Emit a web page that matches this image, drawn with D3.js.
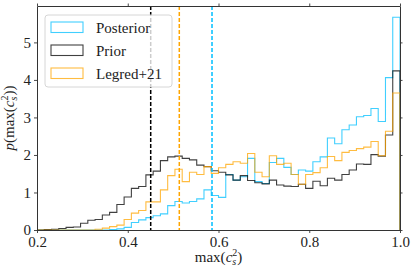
<!DOCTYPE html>
<html>
<head>
<meta charset="utf-8">
<style>
  body { margin: 0; background: #fff; }
  svg { display: block; font-family: "Liberation Serif", "DejaVu Serif", serif; }
  .tick text { font-size: 15px; fill: #222; font-family: "Liberation Serif", "DejaVu Serif", serif; }
</style>
</head>
<body>
<svg width="415" height="274"></svg>
<script src="https://cdn.jsdelivr.net/npm/d3@7"></script>
<script>

// histogram: 50 bins between 0.2 and 1.0
var binLo = 0.2, binHi = 1.0, nBins = 50;

var posterior = [0, 0, 0, 0, 0, 0, 0, 0, 0, 0,
  0.01, 0.03, 0.07, 0.20, 0.27, 0.33, 0.38, 0.43, 0.65, 0.76,
  0.72, 0.76, 0.83, 1.07, 0.92, 0.87, 1.48, 1.33, 1.42, 1.91,
  1.29, 1.24, 1.80, 1.91, 1.67, 1.48, 1.60, 1.57, 1.82, 1.95,
  2.45, 2.30, 2.67, 2.80, 3.02, 3.05, 3.24, 2.89, 4.06, 5.67];

var prior = [0, 0.01, 0.02, 0.04, 0.07, 0.08, 0.18, 0.26, 0.28, 0.40,
  0.47, 0.68, 0.88, 1.11, 1.16, 1.47, 1.57, 1.85, 1.95, 1.97,
  1.91, 1.87, 1.73, 1.69, 1.58, 1.54, 1.47, 1.33, 1.45, 1.32,
  1.26, 1.23, 1.33, 1.20, 1.17, 1.16, 1.22, 1.11, 1.30, 1.18,
  1.38, 1.33, 1.48, 1.60, 1.76, 1.75, 2.01, 1.97, 2.53, 4.24];

var legred = [0, 0, 0, 0, 0, 0, 0, 0, 0.02, 0.05,
  0.09, 0.13, 0.28, 0.45, 0.52, 0.75, 0.75, 1.07, 1.45, 1.62,
  1.29, 1.54, 1.48, 1.69, 1.51, 1.66, 1.75, 1.82, 1.78, 2.04,
  1.54, 1.42, 1.98, 1.75, 1.78, 1.48, 1.22, 1.48, 1.53, 1.66,
  1.96, 1.85, 2.07, 2.12, 2.17, 2.21, 2.36, 1.98, 2.63, 3.65];

var seriesNames = ["Posterior", "Prior", "Legred+21"];
var seriesColors = ["#00bfff", "#000000", "#ffa500"];
var seriesData = [posterior, prior, legred];

// dashed marker lines
var markers = [0.4506, 0.5136, 0.5857];
var markerColors = ["#000000", "#ffa500", "#00bfff"];

var xTicks = [0.2, 0.4, 0.6, 0.8, 1.0];
var yTicks = [0, 1, 2, 3, 4, 5];
var yMax = 5.97;

var margin = {top: 6, right: 15, bottom: 44, left: 37},
    width = 415 - margin.left - margin.right,
    height = 274 - margin.top - margin.bottom;

var x = d3.scaleLinear().domain([binLo, binHi]).range([0, width]);
var y = d3.scaleLinear().domain([0, yMax]).range([height, 0]);

var edges = d3.range(nBins + 1).map(function(i) { return binLo + i * (binHi - binLo) / nBins; });

var svg = d3.select("svg")
  .append("g")
    .attr("transform", "translate(" + margin.left + "," + margin.top + ")");

// step outline like histtype='step'
function stepPath(vals) {
  var p = d3.path();
  p.moveTo(x(edges[0]), y(0));
  vals.forEach(function(v, i) {
    p.lineTo(x(edges[i]), y(v));
    p.lineTo(x(edges[i + 1]), y(v));
  });
  p.lineTo(x(edges[nBins]), y(0));
  return p.toString();
}

seriesData.forEach(function(vals, k) {
  svg.append("path")
      .attr("d", stepPath(vals))
      .attr("fill", "none")
      .attr("stroke", seriesColors[k])
      .attr("stroke-opacity", 0.75)
      .attr("stroke-width", 1.1);
});

markers.forEach(function(m, k) {
  svg.append("line")
      .attr("x1", x(m)).attr("x2", x(m))
      .attr("y1", 0).attr("y2", height)
      .attr("stroke", markerColors[k])
      .attr("stroke-width", 1.5)
      .attr("stroke-dasharray", "4,2");
});

// axes, ticks outward on all sides
function styleAxis(g) {
  g.attr("font-family", null).attr("font-size", null);
  g.select(".domain").attr("stroke", "#333").attr("stroke-width", 1);
  g.selectAll(".tick line").attr("stroke", "#333").attr("stroke-width", 0.9);
}

svg.append("g")
    .attr("transform", "translate(0," + height + ")")
    .call(d3.axisBottom(x).tickValues(xTicks).tickFormat(d3.format(".1f")).tickSize(3).tickSizeOuter(0).tickPadding(3))
    .call(styleAxis);

svg.append("g")
    .call(d3.axisLeft(y).tickValues(yTicks).tickFormat(d3.format("d")).tickSize(3).tickSizeOuter(0).tickPadding(3))
    .call(styleAxis);

svg.append("g")
    .call(d3.axisTop(x).tickValues(xTicks).tickFormat("").tickSize(2.5).tickSizeOuter(0))
    .call(styleAxis);

svg.append("g")
    .attr("transform", "translate(" + width + ",0)")
    .call(d3.axisRight(y).tickValues(yTicks).tickFormat("").tickSize(2.5).tickSizeOuter(0))
    .call(styleAxis);

// legend
var leg = svg.append("g").attr("transform", "translate(8,9)");
leg.append("rect")
    .attr("width", 127).attr("height", 72)
    .attr("rx", 3)
    .attr("fill", "#fff").attr("fill-opacity", 0.8)
    .attr("stroke", "#d6d6d6").attr("stroke-width", 1);

seriesNames.forEach(function(name, k) {
  var row = leg.append("g").attr("transform", "translate(6," + (7 + k * 23) + ")");
  row.append("rect")
      .attr("width", 32).attr("height", 10.5)
      .attr("fill", "none")
      .attr("stroke", seriesColors[k])
      .attr("stroke-opacity", 0.75)
      .attr("stroke-width", 1.1);
  row.append("text")
      .attr("x", 45).attr("y", 10.5)
      .attr("font-size", 15)
      .attr("fill", "#222")
      .text(name);
});

// axis labels with stacked sub/superscript
function csq(t, close) {
  t.append("tspan").attr("font-style", "italic").text("c");
  t.append("tspan").attr("font-size", 10).attr("dy", -6).text("2");
  t.append("tspan").attr("font-size", 10).attr("font-style", "italic").attr("dx", -5).attr("dy", 9).text("s");
  t.append("tspan").attr("dx", 1).attr("dy", -3).text(close);
}

var xl = svg.append("text")
    .attr("x", width / 2).attr("y", height + 32)
    .attr("text-anchor", "middle")
    .attr("font-size", 15)
    .attr("fill", "#222");
xl.append("tspan").text("max(");
csq(xl, ")");

var yl = svg.append("text")
    .attr("transform", "translate(-23," + (height / 2) + ") rotate(-90)")
    .attr("text-anchor", "middle")
    .attr("font-size", 15)
    .attr("fill", "#222");
yl.append("tspan").attr("font-style", "italic").text("p");
yl.append("tspan").text("(max(");
csq(yl, "))");

</script>
</body>
</html>
